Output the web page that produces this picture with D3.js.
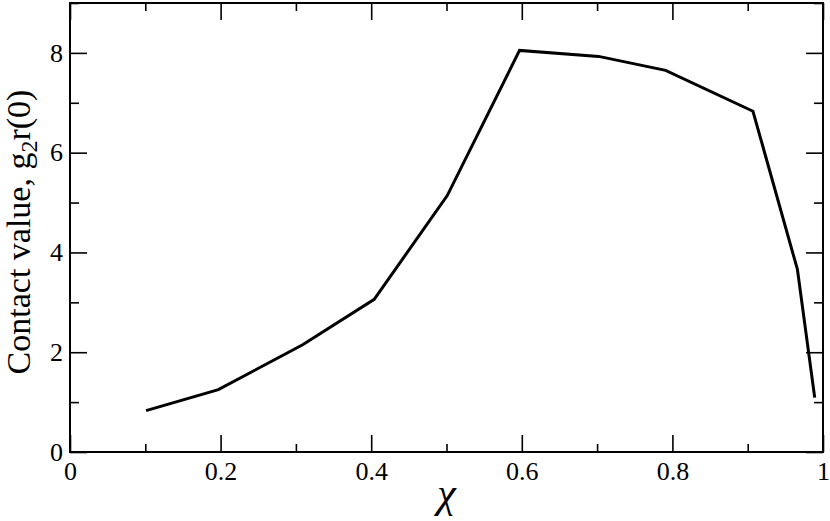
<!DOCTYPE html>
<html lang="en">
<head>
    <meta charset="UTF-8">
    <title>Contact value</title>
    <script src="https://d3js.org/d3.v7.min.js"></script>
    <style>
        body { margin: 0; background: #fff; }
        svg { display: block; }
    </style>
</head>
<body>
<div id="chart"></div>
<script>
    // data
    var chi = [0.101, 0.197, 0.309, 0.404, 0.501, 0.597, 0.702, 0.791, 0.907, 0.966, 0.989];
    var contact = [0.83, 1.25, 2.15, 3.06, 5.14, 8.05, 7.93, 7.65, 6.83, 3.66, 1.09];

    var xMajor = [0, 0.2, 0.4, 0.6, 0.8, 1];
    var xMinor = [0.1, 0.3, 0.5, 0.7, 0.9];
    var yMajor = [0, 2, 4, 6, 8];
    var yMinor = [1, 3, 5, 7, 9];

    var serif = "'Liberation Serif', 'Times New Roman', serif";

    var width = 830, height = 521;
    var margin = {left: 70, right: 7, top: 3, bottom: 69};
    var w = width - margin.left - margin.right;
    var h = height - margin.top - margin.bottom;

    var svg = d3.select("#chart").append("svg")
        .attr("width", width)
        .attr("height", height);

    var g = svg.append("g")
        .attr("transform", "translate(" + margin.left + "," + margin.top + ")");

    var xscale = d3.scaleLinear().domain([0, 1]).range([0, w]);
    var yscale = d3.scaleLinear().domain([0, 9]).range([h, 0]);

    var fmt = function(d) { return d === 0 || d === 1 ? String(d) : d3.format(".1f")(d); };

    function style(sel) {
        sel.select(".domain").remove();
        sel.selectAll(".tick line").attr("stroke", "#000").attr("stroke-width", 1.6);
        sel.selectAll(".tick text")
            .style("font-family", serif)
            .style("font-size", "26px")
            .attr("fill", "#000");
    }

    // bottom
    g.append("g").attr("transform", "translate(0," + h + ")")
        .call(d3.axisBottom(xscale).tickValues(xMajor).tickSize(-17).tickPadding(10).tickFormat(fmt))
        .call(style);
    g.append("g").attr("transform", "translate(0," + h + ")")
        .call(d3.axisBottom(xscale).tickValues(xMinor).tickSize(-8).tickFormat(""))
        .call(style);
    // top
    g.append("g")
        .call(d3.axisTop(xscale).tickValues(xMajor).tickSize(-17).tickFormat(""))
        .call(style);
    g.append("g")
        .call(d3.axisTop(xscale).tickValues(xMinor).tickSize(-8).tickFormat(""))
        .call(style);
    // left
    g.append("g")
        .call(d3.axisLeft(yscale).tickValues(yMajor).tickSize(-17).tickPadding(7).tickFormat(d3.format("d")))
        .call(style);
    g.append("g")
        .call(d3.axisLeft(yscale).tickValues(yMinor).tickSize(-9).tickFormat(""))
        .call(style);
    // right
    g.append("g").attr("transform", "translate(" + w + ",0)")
        .call(d3.axisRight(yscale).tickValues(yMajor).tickSize(-17).tickFormat(""))
        .call(style);
    g.append("g").attr("transform", "translate(" + w + ",0)")
        .call(d3.axisRight(yscale).tickValues(yMinor).tickSize(-9).tickFormat(""))
        .call(style);

    // frame
    g.append("rect")
        .attr("x", 0).attr("y", 0)
        .attr("width", w).attr("height", h)
        .attr("fill", "none")
        .attr("stroke", "#000")
        .attr("stroke-width", 2);

    // curve
    var line = d3.line()
        .x(function(d, i) { return xscale(chi[i]); })
        .y(function(d, i) { return yscale(contact[i]); });

    g.append("path")
        .datum(chi)
        .attr("d", line)
        .attr("fill", "none")
        .attr("stroke", "#000")
        .attr("stroke-width", 3)
        .attr("stroke-linejoin", "miter");

    // axis labels
    svg.append("text")
        .attr("x", margin.left + w / 2)
        .attr("y", 507)
        .attr("text-anchor", "middle")
        .style("font-family", serif)
        .style("font-style", "italic")
        .style("font-size", "42px")
        .text("\u03c7");

    var ylab = svg.append("text")
        .attr("transform", "translate(30,232) rotate(-90)")
        .attr("text-anchor", "middle")
        .style("font-family", serif)
        .style("font-size", "34px");
    ylab.append("tspan").text("Contact value, g");
    ylab.append("tspan").style("font-size", "24px").attr("dy", "0.3em").text("2");
    ylab.append("tspan").attr("dy", "-0.21em").text("r(0)");
</script>
</body>
</html>
